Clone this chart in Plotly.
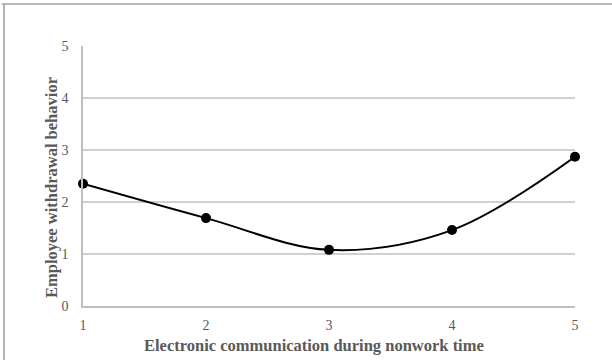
import plotly.graph_objects as go

x_vals = [1, 2, 3, 4, 5]
y_vals = [2.35, 1.69, 1.08, 1.46, 2.87]
y_ticks = [0, 1, 2, 3, 4, 5]
x_ticks = [1, 2, 3, 4, 5]
x_title = "<b>Electronic communication during nonwork time</b>"
y_title = "<b>Employee withdrawal behavior</b>"

fig = go.Figure()
fig.add_trace(go.Scatter(
    x=x_vals, y=y_vals, mode="lines+markers",
    line=dict(color="black", width=2, shape="spline", smoothing=1),
    marker=dict(color="black", size=10),
    showlegend=False, cliponaxis=False,
))

font_family = "Liberation Serif"
fig.update_layout(
    width=612, height=360,
    margin=dict(l=83, r=37, t=46, b=54),
    paper_bgcolor="white", plot_bgcolor="white",
    font=dict(family=font_family, color="#595959", size=14),
    xaxis=dict(
        range=[1, 5], tickvals=x_ticks, showgrid=False, zeroline=False,
        showline=True, linecolor="#BFBFBF", linewidth=1.5,
        ticks="", ticklabelstandoff=5, tickfont=dict(size=14, color="#595959"),
    ),
    yaxis=dict(
        range=[0, 5], tickvals=y_ticks, showgrid=True, gridcolor="#D0D0D0", gridwidth=1.5,
        zeroline=False, showline=True, linecolor="#BFBFBF", linewidth=1.5,
        ticks="", ticklabelstandoff=10, tickfont=dict(size=14, color="#595959"),
    ),
    annotations=[
        dict(text=x_title, xref="paper", yref="paper", x=0.4695, y=-0.15,
             xanchor="center", yanchor="middle", showarrow=False,
             font=dict(size=16.5, color="#595959", family=font_family)),
        dict(text=y_title, xref="paper", yref="paper", x=-0.063, y=0.454,
             xanchor="center", yanchor="middle", showarrow=False, textangle=-90,
             font=dict(size=16.5, color="#595959", family=font_family)),
    ],
    shapes=[
        dict(type="line", xref="paper", yref="paper", x0=-0.165, x1=1.1, y0=1.1615, y1=1.1615,
             line=dict(color="#A0A0A0", width=1.5)),
        dict(type="line", xref="paper", yref="paper", x0=-0.1606, x1=-0.1606, y0=1.1615, y1=-0.25,
             line=dict(color="#A0A0A0", width=1.5)),
    ],
)
fig.write_html("out.html", post_script="document.body.style.margin='0';",
               config={"displayModeBar": False})
